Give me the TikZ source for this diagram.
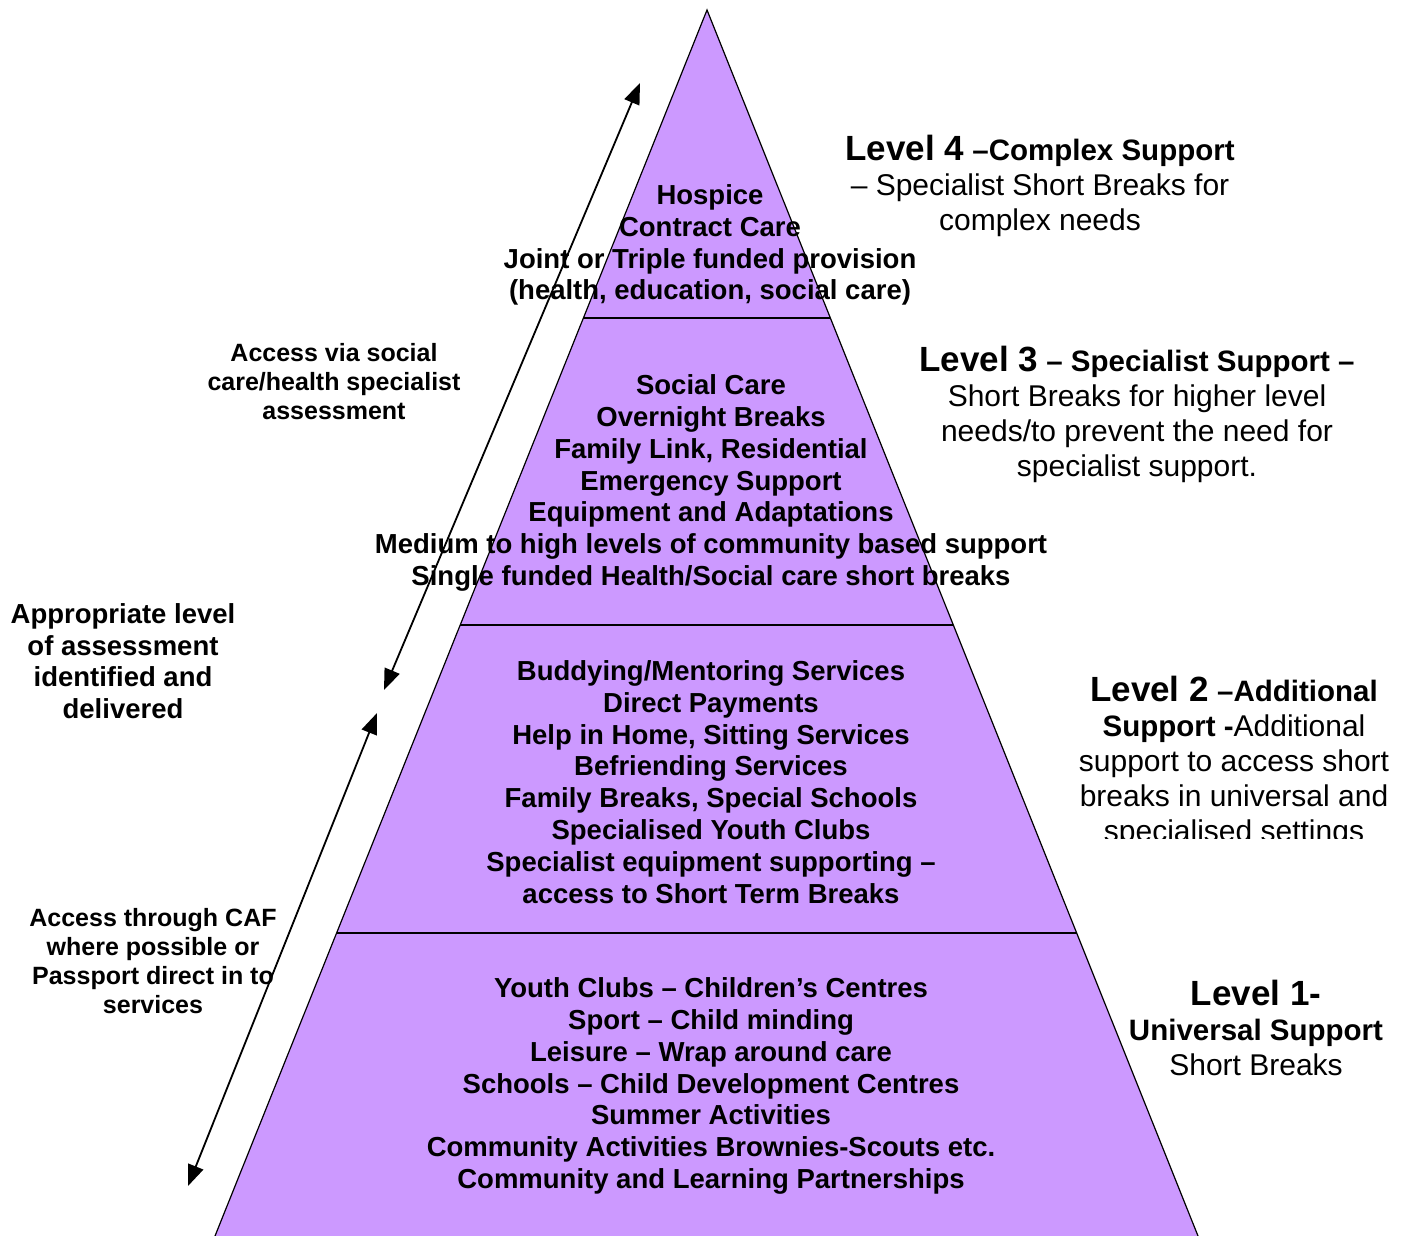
\documentclass[tikz,border=0pt]{standalone}
\usepackage{fontspec}
\setmainfont{Liberation Sans}
\usetikzlibrary{arrows.meta,calc}

\definecolor{lilac}{HTML}{CC99FF}

\tikzset{
	tier/.style={align=center, font=\fontsize{27.5}{31.8}\selectfont\bfseries},
	side/.style={align=center, font=\fontsize{30}{35}\selectfont},
	note/.style={align=center, font=\fontsize{25}{29}\selectfont\bfseries},
	twoway/.style={{Triangle[length=21pt,width=16pt]}-{Triangle[length=21pt,width=16pt]}, line width=1.8pt},
}
\newcommand{\lvl}[1]{{\fontsize{35}{40}\selectfont\bfseries #1}}
\newcommand{\lvlb}[1]{{\fontsize{29.5}{35}\selectfont\bfseries #1}}

\begin{document}
\begin{tikzpicture}[x=1pt,y=-1pt]
	\useasboundingbox (0,0) rectangle (1408,1236);
	\coordinate (top) at (707,10);
	\coordinate (bl) at (215,1236);
	\coordinate (br) at (1198,1236);
	\fill[lilac] (bl) -- (top) -- (br) -- cycle;
	\draw[line width=1.2pt] (bl) -- (top) -- (br);
	\foreach \h [evaluate=\h as \f using (\h-10)/1226] in {318,625,933} {
		\draw[line width=1.2pt] ($(top)!\f!(bl)$) -- ($(top)!\f!(br)$);
	}

	\node[tier] (t4) at (710,245) {Hospice\\Contract Care\\Joint or Triple funded provision\\(health, education, social care)};
	\node[tier] (t3) at (711,483) {Social Care\\Overnight Breaks\\Family Link, Residential\\Emergency Support\\Equipment and Adaptations\\Medium to high levels of community based support\\Single funded Health/Social care short breaks};
	\node[tier] (t2) at (711,782) {Buddying/Mentoring Services\\Direct Payments\\Help in Home, Sitting Services\\Befriending Services\\Family Breaks, Special Schools\\Specialised Youth Clubs\\Specialist equipment supporting –\\access to Short Term Breaks};
	\node[tier] (t1) at (711,1086) {Youth Clubs – Children’s Centres\\Sport – Child minding\\Leisure – Wrap around care\\Schools – Child Development Centres\\Summer Activities\\Community Activities Brownies-Scouts etc.\\Community and Learning Partnerships};

	\node[side] (l4) at (1040,186) {\lvl{Level 4} \lvlb{–Complex Support}\\– Specialist Short Breaks for\\complex needs};
	\node[side] (l3) at (1137,414) {\lvl{Level 3} \lvlb{– Specialist Support –}\\Short Breaks for higher level\\needs/to prevent the need for\\specialist support.};
	\begin{scope}
		\clip (1060,640) rectangle (1408,838);
		\node[side] (l2) at (1234,762) {\lvl{Level 2} \lvlb{–Additional}\\\lvlb{Support -}Additional\\support to access short\\breaks in universal and\\specialised settings};
	\end{scope}
	\node[side] (l1) at (1256,1028) {\lvl{Level 1-}\\\lvlb{Universal Support}\\Short Breaks};

	\node[note] (n1) at (334,382) {Access via social\\care/health specialist\\assessment};
	\node[note, font=\fontsize{27.5}{31.5}\selectfont\bfseries] (n2) at (123,661) {Appropriate level\\of assessment\\identified and\\delivered};
	\node[note] (n3) at (153,961) {Access through CAF\\where possible or\\Passport direct in to\\services};

	\coordinate (a1) at (640,83);
	\coordinate (a2) at (384,690);
	\coordinate (b1) at (377,713);
	\coordinate (b2) at (188,1186);
	\draw[twoway] (a1) -- (a2);
	\draw[twoway] (b1) -- (b2);
\end{tikzpicture}
\end{document}
